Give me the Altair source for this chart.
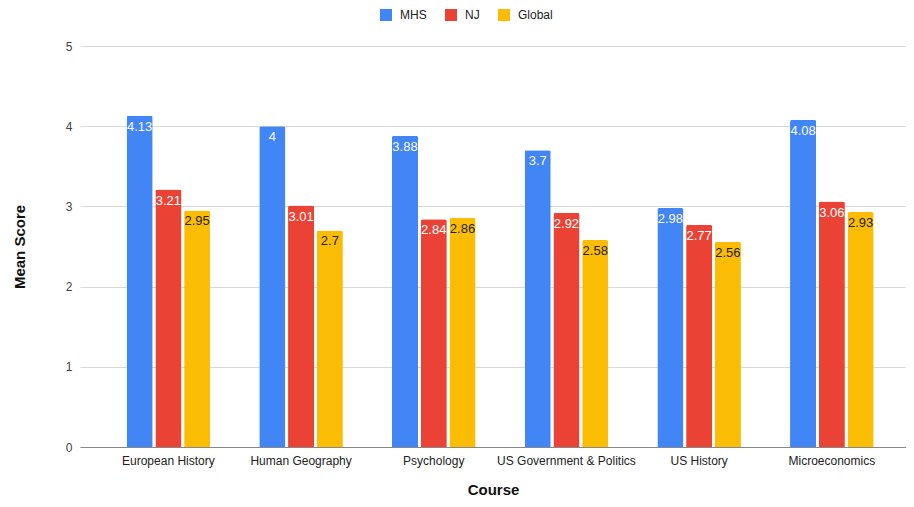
import altair as alt
import pandas as pd

courses = ["European History", "Human Geography", "Psychology",
           "US Government & Politics", "US History", "Microeconomics"]
series = ["MHS", "NJ", "Global"]
mhs = [4.13, 4.00, 3.88, 3.70, 2.98, 4.08]
nj = [3.21, 3.01, 2.84, 2.92, 2.77, 3.06]
glob = [2.95, 2.70, 2.86, 2.58, 2.56, 2.93]
colors = ["#4285F4", "#EA4335", "#FBBC04"]
label_colors = ["#ffffff", "#ffffff", "#222222"]

rows = []
for s, vals, lc in zip(series, [mhs, nj, glob], label_colors):
    for c, v in zip(courses, vals):
        rows.append({"Course": c, "Series": s, "Score": v,
                     "Label": f"{v:g}", "lc": lc})
df = pd.DataFrame(rows)

FONT = "Arial, Liberation Sans, sans-serif"

x = alt.X("Course:N", sort=courses, title="Course",
          scale=alt.Scale(paddingInner=0.37, paddingOuter=0.2975, align=0.59, round=False),
          axis=alt.Axis(labelAngle=0, ticks=False, domainColor="#888888",
                        labelColor="#222222", labelFontSize=12, labelPadding=8,
                        titleFontSize=15, titleFontWeight="bold",
                        titleColor="#111111", titlePadding=16, labelFont=FONT,
                        titleFont=FONT))
xo = alt.XOffset("Series:N", sort=series,
                 scale=alt.Scale(domain=series, paddingInner=0.094, round=False))
y = alt.Y("Score:Q", title="Mean Score",
          scale=alt.Scale(domain=[0, 5], nice=False),
          axis=alt.Axis(values=[0, 1, 2, 3, 4, 5], ticks=False, domain=False,
                        gridColor="#d9d9d9", labelColor="#444444",
                        labelFontSize=12, labelPadding=8, titleFontSize=15,
                        titleFontWeight="bold", titleColor="#111111",
                        titlePadding=38, labelFont=FONT, titleFont=FONT))

bars = alt.Chart(df).mark_bar(cornerRadiusTopLeft=2, cornerRadiusTopRight=2).encode(
    x=x, xOffset=xo, y=y,
    color=alt.Color("Series:N", sort=series,
                    scale=alt.Scale(domain=series, range=colors),
                    legend=alt.Legend(title=None, orient="none", direction="horizontal",
                                      legendX=300, legendY=-37, symbolType="square",
                                      symbolSize=144, symbolStrokeWidth=0,
                                      labelFontSize=12, labelColor="#222222",
                                      labelFont=FONT, labelOffset=8,
                                      columnPadding=18)),
)

labels = alt.Chart(df).mark_text(baseline="top", dy=5, fontSize=13, font=FONT).encode(
    x=x, xOffset=xo, y=y,
    text="Label:N",
    color=alt.Color("lc:N", scale=None, legend=None),
)

chart = alt.layer(bars, labels).properties(
    width=826, height=401,
    autosize=alt.AutoSizeParams(type="none"),
    padding={"left": 72, "top": 38, "right": 0, "bottom": 52},
).configure_view(stroke=None)

chart.save("out.html", embed_options={"renderer": "svg", "actions": False})
